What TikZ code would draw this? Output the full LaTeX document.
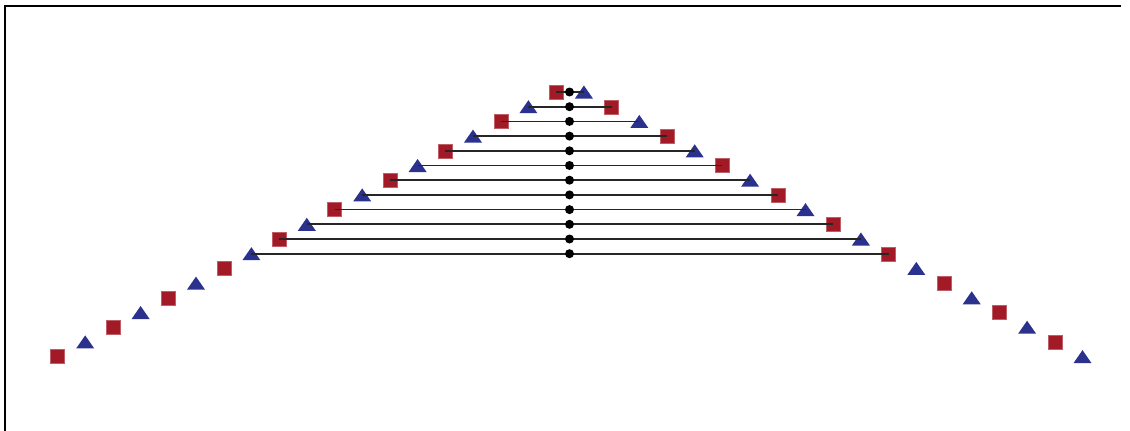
\documentclass[tikz,border=0pt]{standalone}
\usetikzlibrary{calc}
\definecolor{mred}{RGB}{162,26,38}
\definecolor{mblue}{RGB}{42,50,142}
\tikzset{
  sqmark/.style={rectangle, fill=mred, draw=mred!70!white, line width=0.4pt, minimum size=14pt, inner sep=0pt},
  trimark/.style={rectangle, minimum width=18pt, minimum height=13pt, inner sep=0pt,
    path picture={\fill[mblue] (path picture bounding box.south west) -- (path picture bounding box.south east) -- (path picture bounding box.north) -- cycle;}},
  rung/.style={black!85, line width=1.7pt},
  dot/.style={circle, fill=black, minimum size=9pt, inner sep=0pt},
  frame/.style={black, line width=2.5pt}
}
\begin{document}
\begin{tikzpicture}[x=1pt,y=-1pt]
\useasboundingbox (0,0) rectangle (1130,431);
\coordinate (TL) at (5,6);
\coordinate (TR) at (1121,6);
\coordinate (BL) at (5,431);
\draw[frame] (BL) -- (TL) -- (TR);
\foreach \k in {0,...,18}{
  \pgfmathsetmacro\yy{92+14.7*\k}
  \pgfmathsetmacro\xl{556.1-27.7*\k}
  \pgfmathsetmacro\xr{583.9+27.7*\k}
  \ifodd\k
    \node[trimark] (L\k) at (\xl,\yy) {};
    \node[sqmark] (R\k) at (\xr,\yy) {};
  \else
    \node[sqmark] (L\k) at (\xl,\yy) {};
    \node[trimark] (R\k) at (\xr,\yy) {};
  \fi
}
\foreach \k in {0,...,11}{
  \pgfmathsetmacro\yy{92+14.7*\k}
  \draw[rung] (L\k.center) -- (R\k.center);
  \node[dot] (C\k) at (569.5,\yy) {};
}
\end{tikzpicture}
\end{document}
